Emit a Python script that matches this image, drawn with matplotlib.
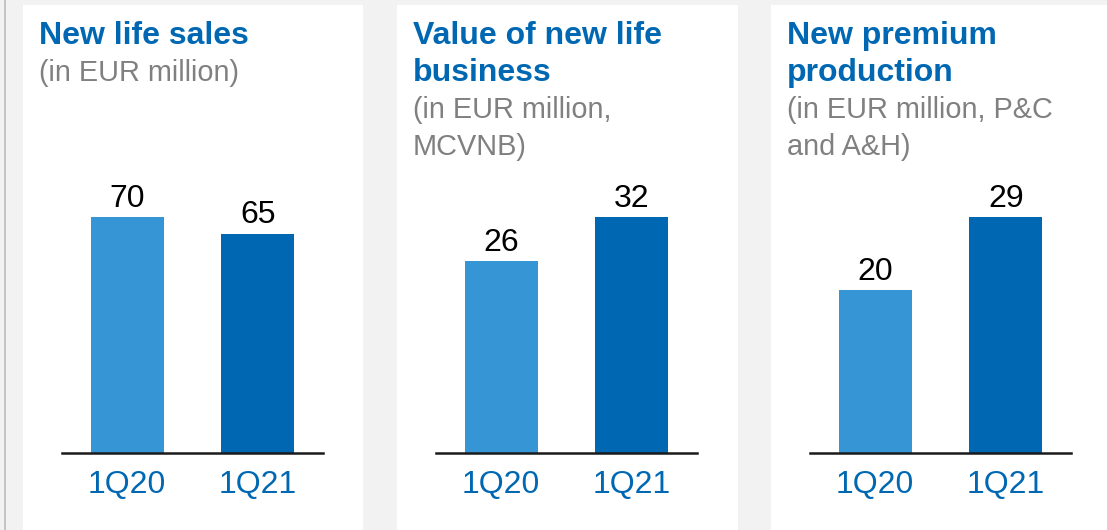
import matplotlib.pyplot as plt
from matplotlib.patches import Rectangle

plt.rcParams["font.family"] = ["Liberation Sans", "DejaVu Sans"]

# data
quarters = ["1Q20", "1Q21"]
new_life_sales = [70, 65]
value_new_life = [26, 32]
new_premium = [20, 29]

titles = [["New life sales"], ["Value of new life", "business"], ["New premium", "production"]]
subtitles = [["(in EUR million)"], ["(in EUR million,", "MCVNB)"], ["(in EUR million, P&C", "and A&H)"]]
series = [new_life_sales, value_new_life, new_premium]

W, H = 1107, 530
BLUE = "#0068b3"
LIGHT = "#3595d5"
GREY = "#808080"
FS = 23
FS_SUB = 20.8

fig = plt.figure(figsize=(W / 100, H / 100), dpi=100, facecolor="#f2f2f2")

# left grey rule
fig.add_artist(Rectangle((4 / W, 0), 2 / W, 1, transform=fig.transFigure, color="#c4c4c4", lw=0))

panel_left = [23, 397, 771]
panel_right = [363, 738, 1107]
base_y = 453
top_y = 150

for i in range(3):
    pl, pr = panel_left[i], panel_right[i]
    fig.add_artist(Rectangle((pl / W, 0), (pr - pl) / W, (H - 5) / H,
                             transform=fig.transFigure, color="white", lw=0, zorder=0))

    # header lines
    lines = [(t, BLUE, "bold", FS) for t in titles[i]] + \
            [(t, GREY, "normal", FS_SUB) for t in subtitles[i]]
    for k, (txt, col, wt, fs) in enumerate(lines):
        y = 44 + 37 * k
        fig.text((pl + 16) / W, (H - y) / H, txt, color=col, fontweight=wt,
                 fontsize=fs, va="baseline", ha="left")

    # bars
    x0, x1 = pl + 39, pl + 300
    ax = fig.add_axes([x0 / W, (H - base_y) / H, (x1 - x0) / W, (base_y - top_y) / H])
    ax.set_facecolor("none")
    vals = series[i]
    ax.bar([0, 1], vals, width=0.56, color=[LIGHT, BLUE])
    ax.set_xlim(-0.5, 1.5)
    ax.set_ylim(0, max(vals) * (base_y - top_y) / 236)
    for xi, v in enumerate(vals):
        ax.annotate(str(v), (xi, v), xytext=(0, 7.5), textcoords="offset points",
                    ha="center", va="baseline", fontsize=FS, color="black")
    ax.set_xticks([0, 1])
    ax.set_xticklabels(quarters, fontsize=FS, color=BLUE)
    ax.tick_params(axis="x", length=0, pad=12)
    ax.set_yticks([])
    for s in ["top", "left", "right"]:
        ax.spines[s].set_visible(False)
    ax.spines["bottom"].set_linewidth(1.8)
    ax.spines["bottom"].set_color("#1a1a1a")

fig.savefig("out.png", dpi=100, facecolor=fig.get_facecolor())
